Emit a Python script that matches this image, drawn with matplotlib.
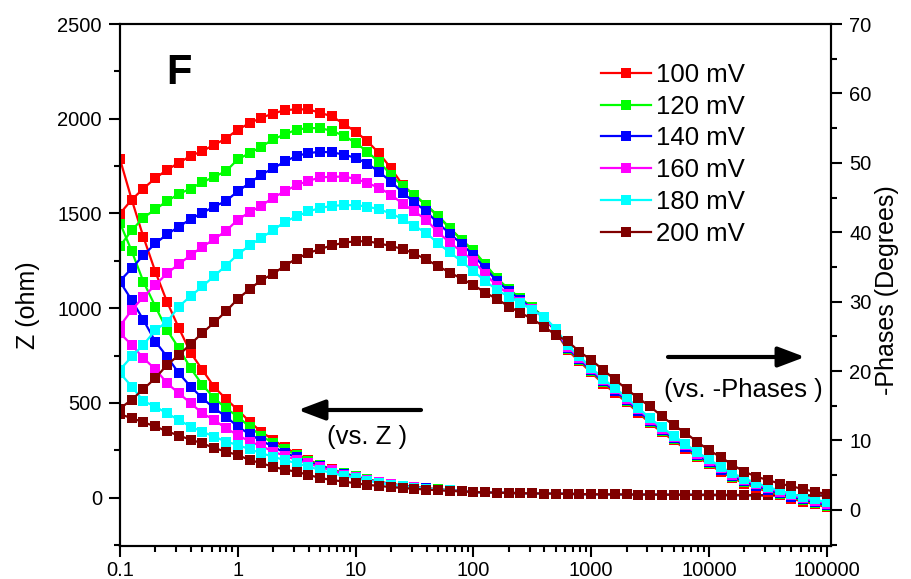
import matplotlib
matplotlib.use('Agg')
import matplotlib.pyplot as plt
from matplotlib.ticker import MultipleLocator, LogLocator, FixedLocator, FixedFormatter, NullFormatter

plt.rcParams['font.family'] = ['Liberation Sans', 'DejaVu Sans']

# frequencies (Hz), 10 points per decade
freq = [0.1, 0.126, 0.158, 0.2, 0.251, 0.316, 0.398, 0.501, 0.631, 0.794,
        1, 1.26, 1.58, 2, 2.51, 3.16, 3.98, 5.01, 6.31, 7.94,
        10, 12.6, 15.8, 20, 25.1, 31.6, 39.8, 50.1, 63.1, 79.4,
        100, 126, 158, 200, 251, 316, 398, 501, 631, 794,
        1000, 1260, 1580, 2000, 2510, 3160, 3980, 5010, 6310, 7940,
        10000, 12600, 15800, 20000, 25100, 31600, 39800, 50100, 63100, 79400,
        100000]

labels = ['100 mV', '120 mV', '140 mV', '160 mV', '180 mV', '200 mV']
colors = ['#ff0000', '#00ff00', '#0000ff', '#ff00ff', '#00ffff', '#800000']

# |Z| (ohm), low frequency part (0.1 .. 79.4 Hz)
z_100 = [1786, 1571, 1376, 1191, 1033, 895, 765, 674, 584, 521,
         463, 401, 348, 305, 266, 230, 200, 172, 150, 130,
         113, 97, 84, 73, 64, 56, 50, 44, 39, 35]
z_120 = [1450, 1300, 1140, 1008, 885, 789, 683, 595, 525, 472,
         428, 374, 327, 287, 255, 225, 195, 170, 148, 128,
         112, 96, 83, 72, 63, 55, 49, 44, 39, 35]
z_140 = [1140, 1042, 938, 823, 744, 657, 586, 525, 472, 428,
         375, 335, 301, 269, 237, 213, 185, 169, 145, 125,
         110, 95, 82, 71, 62, 55, 49, 43, 39, 35]
z_160 = [868, 806, 736, 678, 604, 551, 499, 445, 410, 366,
         331, 296, 273, 243, 221, 199, 181, 160, 145, 122,
         107, 93, 81, 70, 61, 54, 48, 43, 38, 34]
z_180 = [658, 586, 510, 480, 445, 410, 375, 348, 322, 296,
         278, 256, 235, 216, 198, 182, 164, 146, 130, 115,
         102, 90, 79, 69, 60, 53, 47, 42, 38, 34]
z_200 = [440, 420, 398, 376, 350, 328, 306, 287, 262, 243,
         225, 199, 182, 163, 148, 137, 120, 104, 93, 85,
         76, 68, 62, 56, 51, 47, 43, 39, 36, 33]
# |Z| above 100 Hz, practically identical for all biases
z_high = [30, 28, 26, 25, 24, 23, 22, 21, 20, 19, 18.5,
          18, 17.5, 17, 16.5, 16, 15.5, 15, 15, 14.5, 14.5,
          14, 14, 13.5, 13.5, 13, 13, 12.5, 12.5, 12, 12]

# -phase (degrees)
ph_100 = [42.7, 44.7, 46.3, 47.8, 49.0, 50.0, 51.0, 51.7, 52.6, 53.5,
          54.8, 55.7, 56.5, 57.1, 57.6, 57.7, 57.7, 57.2, 56.7, 55.6,
          54.5, 53.1, 51.4, 49.2, 46.8, 45.3, 43.9, 42.3, 40.6, 38.9,
          37.3, 35.3, 33.3, 31.7, 30.4, 29.1, 27.6, 25.7, 23.0, 21.4,
          19.8, 18.2, 16.9, 15.5, 14.0, 12.5, 11.2, 10.0, 8.8, 7.6,
          6.6, 5.5, 4.6, 3.8, 3.2, 2.6, 2.1, 1.6, 1.2, 0.8, 0.4]
ph_120 = [38.0, 40.3, 42.1, 43.3, 44.5, 45.5, 46.3, 47.2, 48.0, 48.8,
          50.5, 51.4, 52.3, 53.4, 54.1, 54.8, 55.0, 55.0, 54.6, 53.9,
          52.9, 51.6, 50.1, 48.3, 46.6, 45.4, 43.9, 42.4, 40.6, 38.9,
          37.4, 35.4, 33.4, 31.8, 30.5, 29.2, 27.8, 25.8, 23.2, 21.6,
          20.0, 18.4, 17.1, 15.7, 14.2, 12.7, 11.4, 10.2, 9.0, 7.8,
          6.8, 5.7, 4.8, 4.0, 3.4, 2.8, 2.3, 1.8, 1.4, 1.0, 0.6]
ph_140 = [33.0, 34.8, 36.7, 38.4, 39.7, 40.8, 41.9, 42.8, 43.7, 44.5,
          45.9, 47.1, 48.3, 49.2, 50.2, 51.0, 51.4, 51.6, 51.5, 51.2,
          50.7, 49.9, 48.7, 47.3, 45.7, 44.3, 43.0, 41.3, 39.8, 38.3,
          36.7, 34.8, 33.0, 31.5, 30.3, 29.0, 27.7, 25.8, 23.3, 21.7,
          20.1, 18.5, 17.2, 15.8, 14.3, 12.8, 11.5, 10.3, 9.1, 7.9,
          6.9, 5.8, 4.9, 4.1, 3.5, 2.9, 2.4, 1.9, 1.5, 1.1, 0.7]
ph_160 = [26.5, 28.8, 30.7, 32.4, 34.1, 35.4, 36.7, 37.9, 39.0, 40.2,
          41.8, 42.9, 43.8, 45.0, 45.9, 46.8, 47.4, 47.9, 48.0, 48.0,
          47.7, 47.1, 46.4, 45.4, 44.1, 43.0, 41.8, 40.0, 38.5, 37.2,
          35.9, 34.0, 32.3, 31.1, 30.0, 28.9, 27.7, 25.9, 23.5, 21.9,
          20.3, 18.7, 17.4, 16.0, 14.5, 13.0, 11.7, 10.5, 9.3, 8.1,
          7.1, 6.0, 5.1, 4.3, 3.7, 3.1, 2.6, 2.1, 1.7, 1.3, 0.9]
ph_180 = [20.2, 22.1, 23.8, 25.9, 27.1, 29.3, 30.8, 32.2, 33.7, 35.2,
          36.8, 38.1, 39.2, 40.3, 41.5, 42.3, 43.0, 43.5, 43.8, 43.9,
          43.9, 43.7, 43.3, 42.7, 41.9, 40.9, 39.9, 38.4, 37.1, 35.8,
          34.4, 33.0, 31.7, 30.7, 29.8, 28.8, 27.8, 26.1, 23.7, 22.1,
          20.5, 18.9, 17.6, 16.2, 14.7, 13.2, 11.9, 10.7, 9.5, 8.3,
          7.3, 6.2, 5.3, 4.5, 3.9, 3.3, 2.8, 2.3, 1.9, 1.5, 1.1]
ph_200 = [14.6, 15.9, 17.4, 19.0, 20.9, 22.3, 23.9, 25.5, 27.0, 28.6,
          30.4, 31.8, 33.1, 34.0, 35.2, 36.2, 37.0, 37.6, 38.1, 38.5,
          38.7, 38.7, 38.4, 38.0, 37.6, 36.9, 36.1, 35.1, 34.2, 33.3,
          32.4, 31.3, 30.4, 29.3, 28.4, 27.5, 26.4, 25.2, 24.3, 22.8,
          21.6, 20.2, 18.8, 17.4, 16.1, 14.9, 13.5, 12.2, 11.1, 9.8,
          8.6, 7.6, 6.5, 5.5, 4.8, 4.3, 3.8, 3.4, 3.0, 2.6, 2.3]

z_sets = [z_100, z_120, z_140, z_160, z_180, z_200]
ph_sets = [ph_100, ph_120, ph_140, ph_160, ph_180, ph_200]

W, H = 911, 579
fig = plt.figure(figsize=(W / 100, H / 100), dpi=100)
ax = fig.add_axes([120 / W, 33 / H, 711 / W, 522 / H])
ax2 = ax.twinx()

ms = 7
for z, c in zip(z_sets, colors):
    ax.plot(freq, z + z_high, color=c, lw=1.6, marker='s', ms=ms, mew=0)
handles = []
for ph, c, lab in zip(ph_sets, colors, labels):
    h, = ax2.plot(freq, ph, color=c, lw=1.6, marker='s', ms=ms, mew=0, label=lab)
    handles.append(h)

ax.set_xscale('log')
ax.set_xlim(0.1, 1.086e5)
ax.set_ylim(-255, 2500)
ax2.set_ylim(-5.2, 70)

xt = [0.1, 1, 10, 100, 1000, 10000, 100000]
ax.xaxis.set_major_locator(FixedLocator(xt))
ax.xaxis.set_major_formatter(FixedFormatter(['0.1', '1', '10', '100', '1000', '10000', '100000']))
ax.xaxis.set_minor_locator(LogLocator(base=10, subs=range(2, 10), numticks=20))
ax.xaxis.set_minor_formatter(NullFormatter())

ax.yaxis.set_major_locator(MultipleLocator(500))
ax.yaxis.set_minor_locator(MultipleLocator(250))
ax2.yaxis.set_major_locator(MultipleLocator(10))
ax2.yaxis.set_minor_locator(MultipleLocator(5))

for a in (ax, ax2):
    for s in a.spines.values():
        s.set_linewidth(1.5)
    a.tick_params(which='major', direction='out', length=8, width=1.5, labelsize=14.5, pad=5)
    a.tick_params(which='minor', direction='out', length=4.5, width=1.5)
ax.tick_params(axis='x', which='major', pad=3)
ax.tick_params(top=False, which='both')

ax.set_ylabel('Z (ohm)', fontsize=18)
ax.yaxis.set_label_coords(-0.113, 0.462)
ax2.set_ylabel('-Phases (Degrees)', fontsize=18)
ax2.yaxis.set_label_coords(1.062, 0.49)

leg = ax2.legend(handles=handles, loc='upper left', bbox_to_anchor=(601 / W, 1 - 63 / H),
                 bbox_transform=fig.transFigure, frameon=False, fontsize=18.5,
                 handlelength=1.95, handletextpad=0.2, labelspacing=0.3,
                 borderpad=0, borderaxespad=0)

fig.text(166 / W, 1 - 73 / H, 'F', fontsize=30, fontweight='bold', va='center', ha='left')

arrow = dict(arrowstyle='-|>,head_length=0.45,head_width=0.17', lw=3, color='k',
             mutation_scale=36, shrinkA=0, shrinkB=0)
ax.annotate('', xy=(298 / W, 1 - 410 / H), xytext=(421 / W, 1 - 410 / H),
            xycoords='figure fraction', textcoords='figure fraction', arrowprops=arrow)
ax.annotate('', xy=(805 / W, 1 - 357 / H), xytext=(668 / W, 1 - 357 / H),
            xycoords='figure fraction', textcoords='figure fraction', arrowprops=arrow)
fig.text(367 / W, 1 - 437 / H, '(vs. Z )', fontsize=18.5, ha='center', va='center')
fig.text(743 / W, 1 - 390 / H, '(vs. -Phases )', fontsize=18.5, ha='center', va='center')

fig.savefig('out.png', dpi=100)
